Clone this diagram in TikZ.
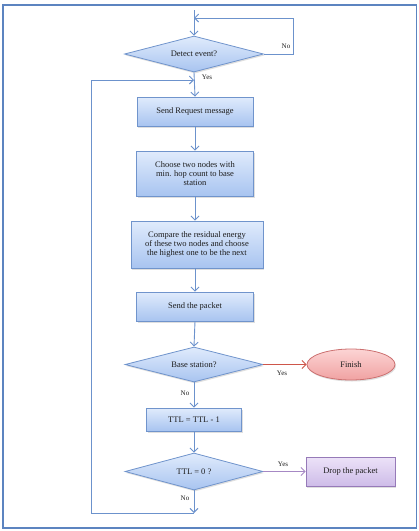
\documentclass[tikz,border=0pt]{standalone}
\usepackage{fontspec}
\setmainfont{Liberation Serif}
\usetikzlibrary{shapes.geometric,arrows.meta,shadows}
\definecolor{frameblue}{RGB}{92,132,192}
\definecolor{lineblue}{RGB}{108,146,204}
\definecolor{boxtop}{RGB}{224,235,252}
\definecolor{boxbot}{RGB}{168,196,240}
\definecolor{boxdraw}{RGB}{112,148,204}
\definecolor{pinktop}{RGB}{252,212,212}
\definecolor{pinkbot}{RGB}{240,162,162}
\definecolor{pinkdraw}{RGB}{204,112,112}
\definecolor{lavtop}{RGB}{236,226,248}
\definecolor{lavbot}{RGB}{206,188,232}
\definecolor{lavdraw}{RGB}{150,122,184}
\definecolor{redline}{RGB}{206,86,74}
\definecolor{purpleline}{RGB}{166,136,196}
\definecolor{txt}{RGB}{30,30,30}
\tikzset{
  x=1pt, y=-1pt,
  base/.style={inner sep=1pt, align=center, text=txt,
    font=\fontsize{8.5}{9.2}\selectfont,
    drop shadow={shadow xshift=1pt, shadow yshift=-1.5pt, opacity=0.25}},
  procbox/.style={base, rectangle, draw=boxdraw, line width=0.8pt,
    top color=boxtop, bottom color=boxbot},
  decbox/.style={base, diamond, draw=boxdraw, line width=0.8pt, shape aspect=3.8,
    top color=boxtop, bottom color=boxbot},
  endbox/.style={base, ellipse, draw=pinkdraw, line width=0.8pt,
    top color=pinktop, bottom color=pinkbot},
  dropbox/.style={base, rectangle, draw=lavdraw, line width=0.8pt,
    top color=lavtop, bottom color=lavbot},
  conn/.style={draw=lineblue, line width=0.9pt, -{Straight Barb[length=4pt,width=8pt]}},
  plain/.style={draw=lineblue, line width=0.9pt},
  lab/.style={inner sep=0pt, text=txt, font=\fontsize{7}{8}\selectfont}
}
\begin{document}
\begin{tikzpicture}
\useasboundingbox (0,0) rectangle (419,531);
\draw[frameblue, line width=1.4pt] (3,5) rectangle (416.5,528);

\node[decbox, minimum width=139pt, minimum height=36pt] (detect) at (194,54) {Detect event?};
\node[procbox, minimum width=116pt, minimum height=29pt] (req) at (195,111.5) {Send Request message};
\node[procbox, minimum width=117pt, minimum height=45pt] (choose) at (195,173.5) {Choose two nodes with\\min. hop count to base\\station};
\node[procbox, minimum width=132pt, minimum height=47pt] (compare) at (197,244.5) {Compare the residual energy\\of these two nodes and choose\\the highest one to be the next};
\node[procbox, minimum width=117pt, minimum height=29pt] (sendp) at (195,306.5) {Send the packet};
\node[decbox, minimum width=138pt, minimum height=35pt] (bs) at (194,364.5) {Base station?};
\node[endbox, minimum width=88pt, minimum height=31pt] (finish) at (351,364.5) {Finish};
\node[procbox, minimum width=95pt, minimum height=23pt] (ttl) at (194,419.5) {TTL = TTL {-} 1};
\node[decbox, minimum width=138pt, minimum height=37pt] (ttlz) at (194,471.5) {TTL = 0 ?};
\node[dropbox, minimum width=89pt, minimum height=29pt] (drop) at (350.5,471.5) {Drop the packet};

\coordinate (start) at (194,10);
\coordinate (noloop) at (293,18);
\coordinate (join) at (194,80);
\coordinate (bot) at (194,513);
\coordinate (lb) at (91,513);
\coordinate (lt) at (91,80);

\draw[conn] (start) -- (detect.north);
\draw[plain] (detect.east) -| (noloop);
\draw[conn] (noloop) -- (194,18);
\draw[conn] (detect.south) -- (req.north);
\draw[conn] (req.south) -- (choose.north);
\draw[conn] (choose.south) -- (choose.south |- compare.north);
\draw[conn] (choose.south |- compare.south) -- (sendp.north);
\draw[conn] (sendp.south) -- (bs.north);
\draw[conn, draw=redline] (bs.east) -- (finish.west);
\draw[conn] (bs.south) -- (ttl.north);
\draw[conn] (ttl.south) -- (ttlz.north);
\draw[conn, draw=purpleline] (ttlz.east) -- (drop.west);
\draw[conn] (ttlz.south) -- (bot);
\draw[plain] (bot) -- (lb);
\draw[conn] (lb) -- (lt) -- (join);

\node[lab] (n1) at (286,46) {No};
\node[lab] (y1) at (207,77) {Yes};
\node[lab] (y2) at (282,373) {Yes};
\node[lab] (n2) at (185,393) {No};
\node[lab] (y3) at (283,464) {Yes};
\node[lab] (n3) at (185,498) {No};
\end{tikzpicture}
\end{document}
